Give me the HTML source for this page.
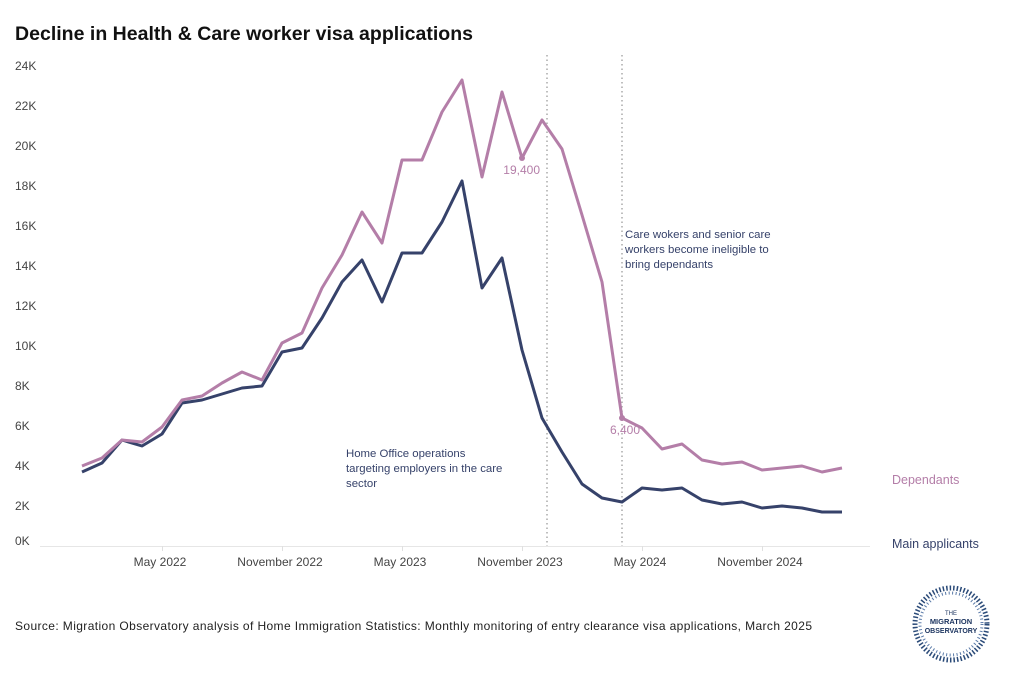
<!DOCTYPE html>
<html><head><meta charset="utf-8"><style>
body{margin:0;background:#fff;font-family:"Liberation Sans",sans-serif;}
svg text{font-family:"Liberation Sans",sans-serif;}
</style></head><body>
<svg id="chart" width="1024" height="677" xmlns="http://www.w3.org/2000/svg">
<text x="15" y="40" font-size="19.5" font-weight="bold" fill="#111" textLength="458">Decline in Health &amp; Care worker visa applications</text>
<g id="yaxis"></g>
<g id="xaxis"></g>
<g id="marks"></g>
<text x="892" y="484" font-size="12.5" fill="#b47ea8">Dependants</text>
<text x="892" y="548" font-size="12.5" fill="#36426a">Main applicants</text>
<text x="346" y="457" font-size="11.4" fill="#36426a"><tspan x="346">Home Office operations</tspan><tspan x="346" dy="15">targeting employers in the care</tspan><tspan x="346" dy="15">sector</tspan></text>
<text x="625" y="238" font-size="11.4" fill="#36426a"><tspan x="625">Care wokers and senior care</tspan><tspan x="625" dy="15">workers become ineligible to</tspan><tspan x="625" dy="15">bring dependants</tspan></text>
<text x="15" y="630" font-size="12" fill="#222" textLength="797">Source: Migration Observatory analysis of Home Immigration Statistics: Monthly monitoring of entry clearance visa applications, March 2025</text>
<g>
<circle cx="951" cy="624" r="36" fill="none" stroke="#2a4a78" stroke-width="5" stroke-dasharray="1.5 2"/>
<circle cx="951" cy="624" r="31" fill="none" stroke="#5a7aa8" stroke-width="3" stroke-dasharray="1 2.5"/>
<text x="951" y="615" font-size="6" text-anchor="middle" fill="#1d3560">THE</text>
<text x="951" y="624" font-size="7.5" font-weight="bold" text-anchor="middle" fill="#1d3560">MIGRATION</text>
<text x="951" y="633" font-size="7" font-weight="bold" text-anchor="middle" fill="#1d3560">OBSERVATORY</text>
</g>
</svg>
<script>
const months = ["Jan 2022","Feb 2022","Mar 2022","Apr 2022","May 2022","Jun 2022","Jul 2022","Aug 2022","Sep 2022","Oct 2022","Nov 2022","Dec 2022","Jan 2023","Feb 2023","Mar 2023","Apr 2023","May 2023","Jun 2023","Jul 2023","Aug 2023","Sep 2023","Oct 2023","Nov 2023","Dec 2023","Jan 2024","Feb 2024","Mar 2024","Apr 2024","May 2024","Jun 2024","Jul 2024","Aug 2024","Sep 2024","Oct 2024","Nov 2024","Dec 2024","Jan 2025","Feb 2025","Mar 2025"];
const dependants = [4000,4400,5300,5200,5950,7300,7500,8150,8700,8300,10150,10650,12900,14550,16700,15150,19300,19300,21700,23300,18450,22700,19400,21300,19850,16550,13200,6400,5900,4850,5100,4300,4100,4200,3800,3900,4000,3700,3900];
const mainApplicants = [3700,4150,5300,5000,5600,7150,7300,7600,7900,8000,9700,9900,11400,13200,14300,12200,14650,14650,16200,18250,12900,14400,9800,6400,4700,3100,2400,2200,2900,2800,2900,2300,2100,2200,1900,2000,1900,1700,1700];
const yTicks = [0,2000,4000,6000,8000,10000,12000,14000,16000,18000,20000,22000,24000];
const yTickLabels = ["0K","2K","4K","6K","8K","10K","12K","14K","16K","18K","20K","22K","24K"];
const xTickIdx = [4,10,16,22,28,34];
const xTickLabels = ["May 2022","November 2022","May 2023","November 2023","May 2024","November 2024"];
const refLineIdx = [23.25,27];
const callouts = [{series:"dep",idx:22,label:"19,400"},{series:"dep",idx:27,label:"6,400"}];

const NS="http://www.w3.org/2000/svg";
const x = i => 82 + i*20;
const y = v => 546 - v*0.02;
function mk(tag, attrs, parent){const e=document.createElementNS(NS,tag);for(const k in attrs)e.setAttribute(k,attrs[k]);parent.appendChild(e);return e;}
const ya=document.getElementById('yaxis'), xa=document.getElementById('xaxis'), mg=document.getElementById('marks');
yTicks.forEach((t,i)=>{
  const tx=mk('text',{x:15,y:y(t)+4-(t===0?5:0),'font-size':12,fill:'#444'},ya);
  
  
  tx.textContent=yTickLabels[i];
});
const axl=mk('line',{x1:40,x2:870,y1:546.5,y2:546.5,stroke:'#e6e6e6'},xa);


xTickIdx.forEach((d,i)=>{
  const tk=mk('line',{x1:x(d)+0.5,x2:x(d)+0.5,y1:546,y2:551,stroke:'#e0e0e0'},xa);
  
  
  const tx=mk('text',{x:x(d)-2,y:566,'font-size':12,fill:'#444','text-anchor':'middle'},xa);
  
  
  tx.textContent=xTickLabels[i];
});
refLineIdx.forEach(d=>{
  const l=mk('line',{x1:x(d),x2:x(d),y1:55,y2:546,stroke:'#aaa','stroke-width':1.5,'stroke-dasharray':'1.5 3'},mg);
  
  
});
function line(vals,color,name){
  const p=mk('polyline',{points:vals.map((v,i)=>x(i)+','+y(v)).join(' '),fill:'none',stroke:color,'stroke-width':3,'stroke-linejoin':'round'},mg);
  
  
}
line(mainApplicants,'#36426a','main-applicants-line');
line(dependants,'#b47ea8','dependants-line');
callouts.forEach(c=>{
  const v=dependants[c.idx];
  const ci=mk('circle',{cx:x(c.idx),cy:y(v),r:3,fill:'#b47ea8'},mg);
  
  
  const t=mk('text',{x:x(c.idx)+18,y:y(v)+16,'font-size':12,fill:'#b47ea8','text-anchor':'end'},mg);
  
  
  t.textContent=c.label;
});
</script>
</body></html>
